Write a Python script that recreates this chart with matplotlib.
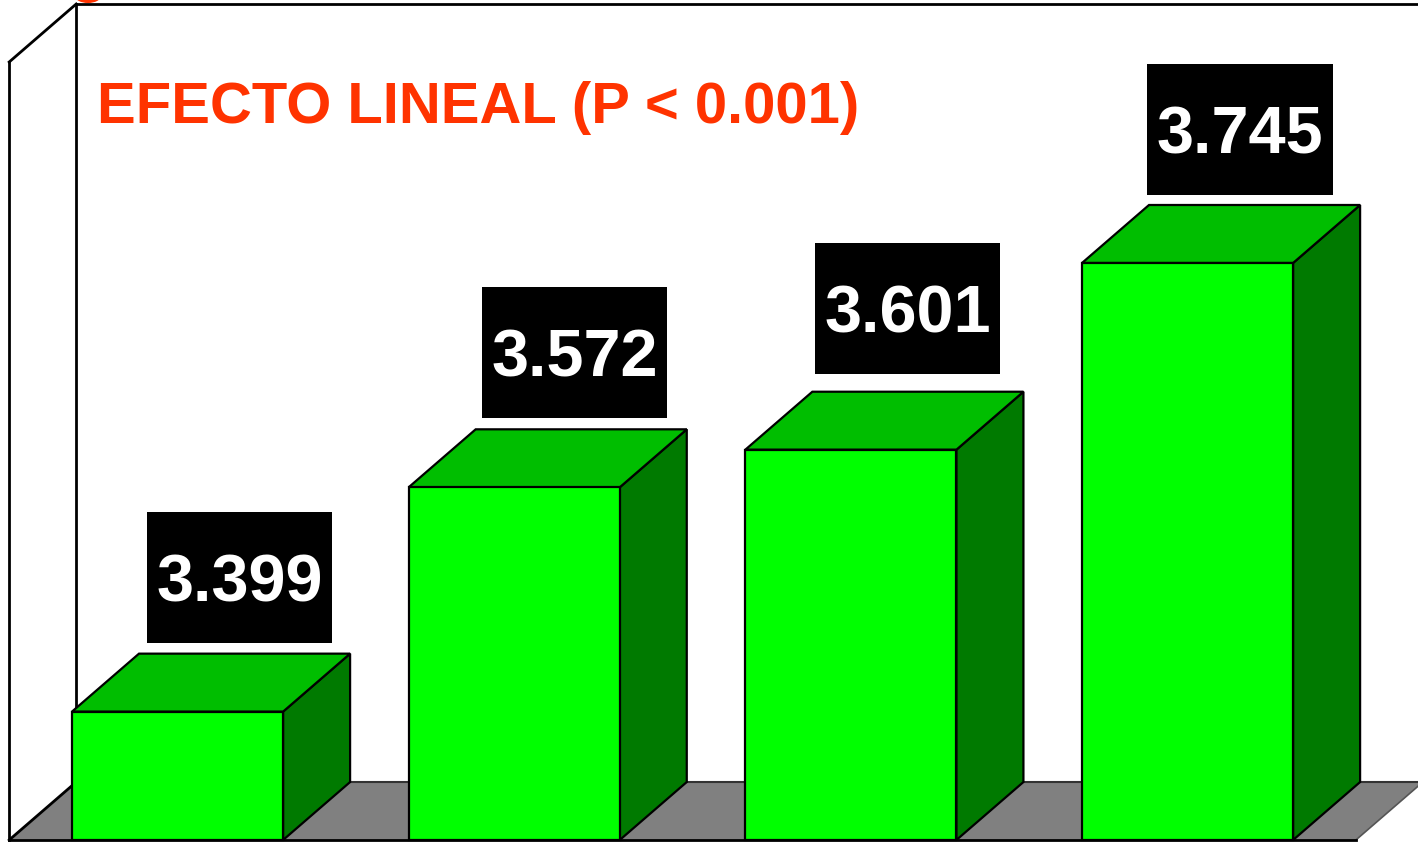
import matplotlib
matplotlib.use("Agg")
import matplotlib.pyplot as plt
from matplotlib.patches import Polygon, Rectangle, Ellipse

# Data
categories = ["Q1", "Q2", "Q3", "Q4"]
values = [3.399, 3.572, 3.601, 3.745]
value_labels = ["3.399", "3.572", "3.601", "3.745"]
title_text = "EFECTO LINEAL (P < 0.001)"

# Axis range of the value scale
Y_MIN, Y_MAX = 3.3, 3.9

# 3D styling
BAR_W = 0.627
DEPTH_X = 0.199      # depth offset in category units
DEPTH_Y = 0.0447     # depth offset in value units
FRONT = "#00FF00"
TOP = "#00BE00"
SIDE = "#007A00"
FLOOR = "#808080"
EDGE = "black"

# Label box layout (offsets from each bar, in axis units)
BOX_W, BOX_H = 0.55, 0.101
BOX_DX = [0.184, 0.179, 0.168, 0.156]
BOX_GAP = [0.0085, 0.0085, 0.014, 0.008]

fig = plt.figure(figsize=(14.18, 8.42), dpi=100)
ax = fig.add_axes([0.0065, 0.0024, 0.9497, 0.924])
ax.set_xlim(-0.5, len(categories) - 0.5)
ax.set_ylim(Y_MIN, Y_MAX)
ax.axis("off")

x0, x1 = -0.5, len(categories) - 0.5


def poly(pts, fc, ec=EDGE, lw=1.6, z=1):
    p = Polygon(pts, closed=True, facecolor=fc, edgecolor=ec, linewidth=lw,
                joinstyle="miter", clip_on=False, zorder=z)
    ax.add_patch(p)
    return p


def line(xs, ys, lw=2.0, color=EDGE, z=2):
    ax.plot(xs, ys, color=color, lw=lw, clip_on=False, zorder=z,
            solid_capstyle="projecting")


# Back wall
poly([(x0 + DEPTH_X, Y_MIN + DEPTH_Y), (x0 + DEPTH_X, Y_MAX + DEPTH_Y),
      (x1 + DEPTH_X, Y_MAX + DEPTH_Y), (x1 + DEPTH_X, Y_MIN + DEPTH_Y)],
     "white", ec="none", z=0)
# Floor
poly([(x0, Y_MIN), (x0 + DEPTH_X, Y_MIN + DEPTH_Y),
      (x1 + DEPTH_X, Y_MIN + DEPTH_Y), (x1, Y_MIN)],
     FLOOR, ec="none", z=0.5)
line([x0 + DEPTH_X, x1 + DEPTH_X], [Y_MIN + DEPTH_Y] * 2, lw=1.5, color="#333333", z=0.6)
line([x1 + DEPTH_X, x1], [Y_MIN + DEPTH_Y, Y_MIN], lw=1.2, color="#555555", z=0.6)

# Wall outlines
line([x0 + DEPTH_X, x0 + DEPTH_X], [Y_MIN + DEPTH_Y, Y_MAX + DEPTH_Y])
line([x0 + DEPTH_X, x1 + DEPTH_X], [Y_MAX + DEPTH_Y] * 2)
line([x0, x0], [Y_MIN, Y_MAX])
line([x0, x0 + DEPTH_X], [Y_MAX, Y_MAX + DEPTH_Y])
line([x0, x0 + DEPTH_X], [Y_MIN, Y_MIN + DEPTH_Y])
line([x0, x1], [Y_MIN, Y_MIN], lw=2.0)

# Bars
for i, v in enumerate(values):
    l, r = i - BAR_W / 2, i + BAR_W / 2
    # right side face
    poly([(r, Y_MIN), (r + DEPTH_X, Y_MIN + DEPTH_Y),
          (r + DEPTH_X, v + DEPTH_Y), (r, v)], SIDE, z=3)
    # top face
    poly([(l, v), (l + DEPTH_X, v + DEPTH_Y),
          (r + DEPTH_X, v + DEPTH_Y), (r, v)], TOP, z=3)
    # front face
    poly([(l, Y_MIN), (l, v), (r, v), (r, Y_MIN)], FRONT, z=4)

# Value boxes above each bar
for i, (v, lab) in enumerate(zip(values, value_labels)):
    cx = i + BOX_DX[i]
    by = v + DEPTH_Y + BOX_GAP[i]
    ax.add_patch(Rectangle((cx - BOX_W / 2, by), BOX_W, BOX_H, facecolor="black",
                           edgecolor="none", clip_on=False, zorder=5))
    ax.text(cx, by + BOX_H / 2, lab, ha="center", va="center_baseline",
            color="white", fontsize=48, fontweight="bold",
            family=["Liberation Sans", "DejaVu Sans"],
            zorder=6, clip_on=False)

# Title
fig.text(97 / 1418, 1 - 123 / 842, title_text, ha="left", va="baseline",
         color="#FF3300", fontsize=41.8, fontweight="bold",
         family=["Liberation Sans", "DejaVu Sans"])

# Fragment of the heading above the frame
fig.patches.append(Ellipse((88 / 1418, 1 + 4 / 842), 26 / 1418, 14 / 842,
                           transform=fig.transFigure, facecolor="#FF3300",
                           edgecolor="none"))

fig.savefig("out.png", dpi=100)
